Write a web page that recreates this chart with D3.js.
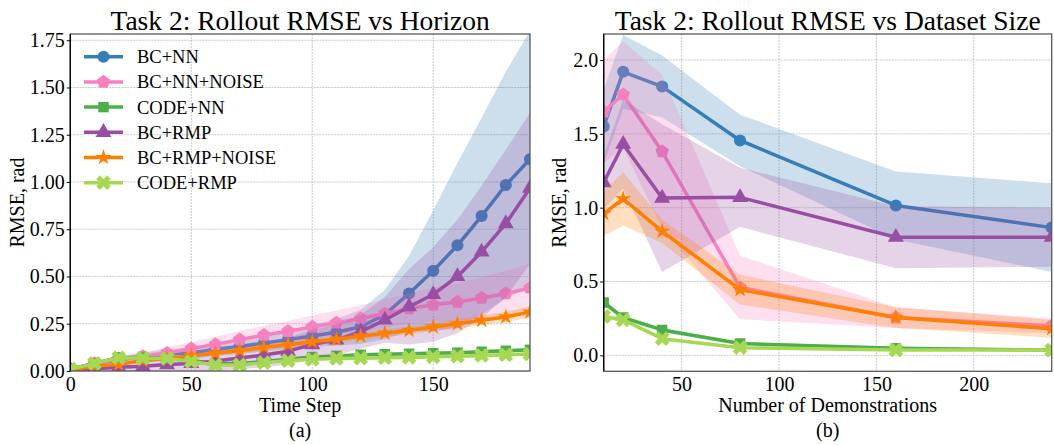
<!DOCTYPE html>
<html>
<head>
<meta charset="utf-8">
<script src="https://cdn.jsdelivr.net/npm/d3@7"></script>
<style>
  body { margin: 0; background: #fff; }
  svg text { font-family: "Liberation Serif", "DejaVu Serif", serif; fill: #000; }
</style>
</head>
<body>
<script>
// ---- data ----
var seriesNames = ["BC+NN", "BC+NN+NOISE", "CODE+NN", "BC+RMP", "BC+RMP+NOISE", "CODE+RMP"];
var seriesColors = ["#377eb8", "#f781bf", "#4daf4a", "#984ea3", "#ff7f00", "#a6d854"];

// panel (a): rollout RMSE vs horizon
var timeSteps = [0, 10, 20, 30, 40, 50, 60, 70, 80, 90, 100, 110, 120, 130, 140, 150, 160, 170, 180, 190];
var bcNN_h       = [0.01, 0.04, 0.06, 0.075, 0.09, 0.095, 0.115, 0.13, 0.148, 0.166, 0.185, 0.205, 0.234, 0.298, 0.41, 0.53, 0.665, 0.82, 0.984, 1.12];
var bcNNNoise_h  = [0.01, 0.04, 0.065, 0.078, 0.095, 0.118, 0.141, 0.166, 0.19, 0.21, 0.233, 0.255, 0.278, 0.303, 0.331, 0.35, 0.365, 0.386, 0.41, 0.44];
var codeNN_h     = [0.01, 0.04, 0.072, 0.072, 0.068, 0.056, 0.04, 0.04, 0.05, 0.062, 0.074, 0.08, 0.086, 0.089, 0.091, 0.094, 0.097, 0.102, 0.107, 0.112];
var bcRMP_h      = [0.005, 0.012, 0.02, 0.025, 0.034, 0.04, 0.053, 0.069, 0.085, 0.105, 0.14, 0.165, 0.208, 0.27, 0.34, 0.405, 0.5, 0.63, 0.78, 0.967];
var bcRMPNoise_h = [0.005, 0.026, 0.035, 0.056, 0.065, 0.081, 0.094, 0.108, 0.125, 0.139, 0.155, 0.168, 0.184, 0.2, 0.215, 0.233, 0.25, 0.268, 0.286, 0.312];
var codeRMP_h    = [0.01, 0.04, 0.07, 0.068, 0.066, 0.05, 0.032, 0.032, 0.044, 0.055, 0.062, 0.066, 0.068, 0.07, 0.072, 0.075, 0.078, 0.082, 0.086, 0.09];

var bcNN_hs       = [0.005, 0.01, 0.015, 0.02, 0.025, 0.03, 0.035, 0.04, 0.045, 0.05, 0.06, 0.07, 0.09, 0.13, 0.2, 0.32, 0.435, 0.52, 0.6, 0.68];
var bcNNNoise_hs  = [0.005, 0.01, 0.015, 0.02, 0.03, 0.035, 0.04, 0.045, 0.05, 0.055, 0.06, 0.065, 0.07, 0.075, 0.08, 0.09, 0.1, 0.11, 0.12, 0.13];
var codeNN_hs     = [0.003, 0.005, 0.006, 0.006, 0.006, 0.006, 0.006, 0.006, 0.007, 0.007, 0.008, 0.008, 0.008, 0.008, 0.009, 0.009, 0.009, 0.01, 0.01, 0.01];
var bcRMP_hs      = [0.005, 0.01, 0.02, 0.03, 0.04, 0.045, 0.05, 0.06, 0.065, 0.07, 0.08, 0.08, 0.09, 0.12, 0.2, 0.25, 0.3, 0.35, 0.39, 0.4];
var bcRMPNoise_hs = [0.003, 0.005, 0.008, 0.01, 0.01, 0.012, 0.012, 0.014, 0.015, 0.016, 0.017, 0.018, 0.018, 0.02, 0.02, 0.022, 0.024, 0.025, 0.028, 0.03];
var codeRMP_hs    = [0.003, 0.005, 0.006, 0.006, 0.006, 0.006, 0.006, 0.006, 0.007, 0.007, 0.008, 0.008, 0.008, 0.008, 0.009, 0.009, 0.009, 0.01, 0.01, 0.01];

// panel (b): rollout RMSE vs dataset size
var demos = [10, 20, 40, 80, 160, 240];
var bcNN_d       = [1.55, 1.92, 1.82, 1.455, 1.015, 0.865];
var bcNNNoise_d  = [1.65, 1.766, 1.38, 0.46, 0.256, 0.2];
var codeNN_d     = [0.358, 0.256, 0.172, 0.08, 0.048, 0.036];
var bcRMP_d      = [1.17, 1.43, 1.065, 1.07, 0.8, 0.8];
var bcRMPNoise_d = [0.96, 1.06, 0.84, 0.445, 0.256, 0.18];
var codeRMP_d    = [0.263, 0.24, 0.113, 0.052, 0.036, 0.036];

var bcNN_ds       = [0.25, 0.25, 0.21, 0.175, 0.23, 0.3];
var bcNNNoise_ds  = [0.35, 0.36, 0.52, 0.215, 0.07, 0.05];
var codeNN_ds     = [0.02, 0.015, 0.015, 0.01, 0.01, 0.01];
var bcRMP_ds      = [0.18, 0.3, 0.5, 0.2, 0.21, 0.2];
var bcRMPNoise_ds = [0.15, 0.18, 0.08, 0.1, 0.07, 0.06];
var codeRMP_ds    = [0.02, 0.015, 0.01, 0.008, 0.006, 0.006];

var horizonTicksX = [0, 50, 100, 150];
var horizonTicksY = [0, 0.25, 0.5, 0.75, 1.0, 1.25, 1.5, 1.75];
var demoTicksX = [50, 100, 150, 200];
var demoTicksY = [0, 0.5, 1.0, 1.5, 2.0];

// pentagon marker (matplotlib "p")
var symbolPentagon = {
  draw: function(context, size) {
    var r = Math.sqrt(size / (2.5 * Math.sin(2 * Math.PI / 5)));
    for (var i = 0; i < 5; i++) {
      var a = -Math.PI / 2 + i * 2 * Math.PI / 5;
      if (i == 0) context.moveTo(r * Math.cos(a), r * Math.sin(a));
      else context.lineTo(r * Math.cos(a), r * Math.sin(a));
    }
    context.closePath();
  }
};
var markers = [
  {type: d3.symbolCircle, size: 115, rot: 0},
  {type: symbolPentagon, size: 120, rot: 0},
  {type: d3.symbolSquare, size: 110, rot: 0},
  {type: d3.symbolTriangle, size: 110, rot: 0},
  {type: d3.symbolStar, size: 80, rot: 0},
  {type: d3.symbolCross, size: 135, rot: 45}
];

var svg = d3.select("body").append("svg")
  .attr("width", 1054)
  .attr("height", 445);

function drawPanel(p) {
  var x = d3.scaleLinear().domain(p.xDomain).range([p.left, p.right]);
  var y = d3.scaleLinear().domain(p.yDomain).range([p.bottom, p.top]);

  var g = svg.append("g");

  g.append("clipPath").attr("id", p.id + "clip")
    .append("rect")
    .attr("x", p.left).attr("y", p.top)
    .attr("width", p.right - p.left).attr("height", p.bottom - p.top);

  // grid
  g.append("g").selectAll("line.gx").data(p.xTicks).enter().append("line")
    .attr("x1", function(d) { return x(d); }).attr("x2", function(d) { return x(d); })
    .attr("y1", p.top).attr("y2", p.bottom)
    .attr("stroke", "#c4c4c4").attr("stroke-width", 0.9).attr("stroke-dasharray", "2,1");
  g.append("g").selectAll("line.gy").data(p.yTicks).enter().append("line")
    .attr("x1", p.left).attr("x2", p.right)
    .attr("y1", function(d) { return y(d); }).attr("y2", function(d) { return y(d); })
    .attr("stroke", "#c4c4c4").attr("stroke-width", 0.9).attr("stroke-dasharray", "2,1");

  var plot = g.append("g").attr("clip-path", "url(#" + p.id + "clip)");

  p.series.forEach(function(s, k) {
    var pts = p.xs.map(function(xv, i) { return {x: xv, m: s.mean[i], s: s.std[i]}; });

    plot.append("path")
      .datum(pts)
      .attr("fill", seriesColors[k])
      .attr("fill-opacity", 0.25)
      .attr("d", d3.area()
        .x(function(d) { return x(d.x); })
        .y0(function(d) { return y(d.m - d.s); })
        .y1(function(d) { return y(d.m + d.s); }));

    plot.append("path")
      .datum(pts)
      .attr("fill", "none")
      .attr("stroke", seriesColors[k])
      .attr("stroke-width", 3.5)
      .attr("stroke-linejoin", "round")
      .attr("d", d3.line()
        .x(function(d) { return x(d.x); })
        .y(function(d) { return y(d.m); }));

    var mk = markers[k];
    plot.append("g").selectAll("path")
      .data(pts)
      .enter()
      .append("path")
      .attr("transform", function(d) { return "translate(" + x(d.x) + "," + y(d.m) + ") rotate(" + mk.rot + ")"; })
      .attr("d", d3.symbol().type(mk.type).size(mk.size))
      .attr("fill", seriesColors[k]);
  });

  // spines
  g.append("rect")
    .attr("x", p.left).attr("y", p.top)
    .attr("width", p.right - p.left).attr("height", p.bottom - p.top)
    .attr("fill", "none").attr("stroke", "#5a5a5a").attr("stroke-width", 1.3);
  g.append("line")
    .attr("x1", p.left).attr("x2", p.left).attr("y1", p.top).attr("y2", p.bottom)
    .attr("stroke", "#000").attr("stroke-width", 1.3);

  // axes
  var yAxis = g.append("g")
    .attr("transform", "translate(" + p.left + ",0)")
    .call(d3.axisLeft(y).tickValues(p.yTicks).tickFormat(d3.format(p.yFormat)).tickSize(3.5).tickPadding(2));
  var xAxis = g.append("g")
    .attr("transform", "translate(0," + p.bottom + ")")
    .call(d3.axisBottom(x).tickValues(p.xTicks).tickFormat(d3.format("d")).tickSize(0).tickPadding(6));
  [xAxis, yAxis].forEach(function(a) {
    a.select(".domain").remove();
    a.selectAll("text").style("font-size", "20px").style("font-family", "Liberation Serif, serif").attr("fill", "#000");
    a.selectAll("line").attr("stroke", "#000");
  });

  // titles and labels
  var cx = (p.left + p.right) / 2;
  g.append("text").attr("x", cx).attr("y", 30)
    .attr("text-anchor", "middle").style("font-size", "27.5px").text(p.title);
  g.append("text").attr("x", cx).attr("y", 412)
    .attr("text-anchor", "middle").style("font-size", "20px").text(p.xLabel);
  g.append("text").attr("x", cx).attr("y", 437)
    .attr("text-anchor", "middle").style("font-size", "20px").text(p.sub);
  g.append("text")
    .attr("transform", "translate(" + p.yLabelX + "," + ((p.top + p.bottom) / 2) + ") rotate(-90)")
    .attr("text-anchor", "middle").style("font-size", "20px").text("RMSE, rad");
}

drawPanel({
  id: "a",
  left: 70.3, right: 530, top: 34, bottom: 371,
  xDomain: [0, 190], yDomain: [0, 1.783],
  xTicks: horizonTicksX, yTicks: horizonTicksY, yFormat: ".2f",
  xs: timeSteps,
  series: [
    {mean: bcNN_h, std: bcNN_hs},
    {mean: bcNNNoise_h, std: bcNNNoise_hs},
    {mean: codeNN_h, std: codeNN_hs},
    {mean: bcRMP_h, std: bcRMP_hs},
    {mean: bcRMPNoise_h, std: bcRMPNoise_hs},
    {mean: codeRMP_h, std: codeRMP_hs}
  ],
  title: "Task 2: Rollout RMSE vs Horizon",
  xLabel: "Time Step", sub: "(a)", yLabelX: 24
});

drawPanel({
  id: "b",
  left: 603.7, right: 1051.7, top: 34, bottom: 371.3,
  xDomain: [10, 240], yDomain: [-0.108, 2.176],
  xTicks: demoTicksX, yTicks: demoTicksY, yFormat: ".1f",
  xs: demos,
  series: [
    {mean: bcNN_d, std: bcNN_ds},
    {mean: bcNNNoise_d, std: bcNNNoise_ds},
    {mean: codeNN_d, std: codeNN_ds},
    {mean: bcRMP_d, std: bcRMP_ds},
    {mean: bcRMPNoise_d, std: bcRMPNoise_ds},
    {mean: codeRMP_d, std: codeRMP_ds}
  ],
  title: "Task 2: Rollout RMSE vs Dataset Size",
  xLabel: "Number of Demonstrations", sub: "(b)", yLabelX: 566
});

// legend (inside panel a)
var legend = svg.append("g").selectAll("g")
  .data(seriesNames)
  .enter()
  .append("g")
  .attr("transform", function(d, i) { return "translate(0," + (56.7 + i * 25.2) + ")"; });

legend.append("line")
  .attr("x1", 84).attr("x2", 123).attr("y1", 0).attr("y2", 0)
  .attr("stroke", function(d, i) { return seriesColors[i]; })
  .attr("stroke-width", 3.5);
legend.append("path")
  .attr("transform", function(d, i) { return "translate(103.5,0) rotate(" + markers[i].rot + ")"; })
  .attr("d", function(d, i) { return d3.symbol().type(markers[i].type).size(markers[i].size)(); })
  .attr("fill", function(d, i) { return seriesColors[i]; });
legend.append("text")
  .attr("x", 137).attr("y", 6.5)
  .style("font-size", "18.5px")
  .text(function(d) { return d; });
</script>
</body>
</html>
